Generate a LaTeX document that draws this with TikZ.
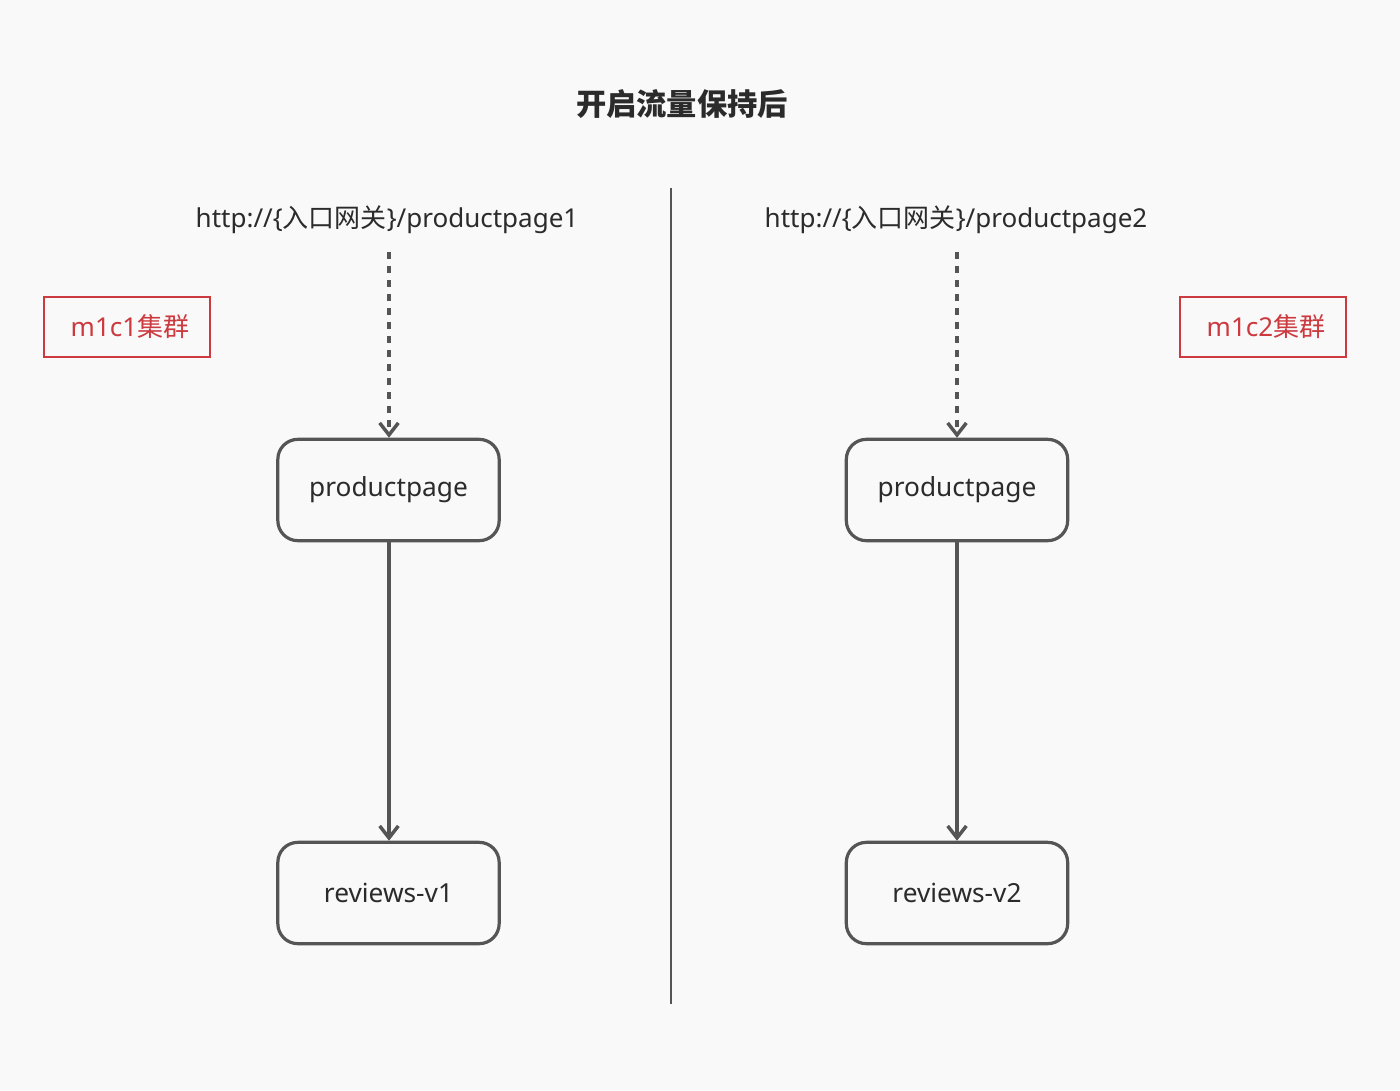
\documentclass[tikz,border=0pt]{standalone}
\usepackage{fontspec}
\setmainfont{Noto Sans}
\newfontfamily\cjk{Noto Sans CJK SC}
\usetikzlibrary{arrows.meta}
\definecolor{bg}{HTML}{F9F9F9}
\definecolor{edge}{HTML}{555555}
\definecolor{txt}{HTML}{2B2B2B}
\definecolor{redc}{HTML}{CC3A3F}
\tikzset{
  svc/.style={draw=edge, line width=2.4pt, rounded corners=15pt, minimum width=166pt, minimum height=76pt, text=txt, font=\fontsize{19.7pt}{23pt}\selectfont, fill=bg},
  cluster/.style={draw=redc, line width=1.5pt, minimum width=125pt, minimum height=45pt, text=redc, font=\fontsize{19.5pt}{23pt}\selectfont},
  url/.style={text=txt, font=\fontsize{19.5pt}{23pt}\selectfont},
  flow/.style={draw=edge, line width=2.6pt, -{Straight Barb[length=9pt,width=14pt,line width=2.6pt]}},
  dflow/.style={flow, dash pattern=on 5.25pt off 5.25pt},
}
\begin{document}
\begin{tikzpicture}[x=0.75pt,y=-0.75pt]
\fill[bg] (0,0) rectangle (1400,1090);
\useasboundingbox (0,0) rectangle (1400,1090);
\node[text=txt, font=\cjk\bfseries\fontsize{22.7pt}{26pt}\selectfont] (title) at (682,104) {开启流量保持后};
\coordinate (dtop) at (671,188);
\coordinate (dbot) at (671,1004);
\draw[edge, line width=1.5pt] (dtop) -- (dbot);
% left
\node[url] (u1) at (387,220) {http://\{{\cjk 入口网关}\}/productpage1};
\node[cluster, text width=0pt, align=center] (c1) at (127,326.5) {};
\node[text=redc, font=\fontsize{19.5pt}{23pt}\selectfont] (c1t) at (130,326.5) {m1c1{\cjk 集群}};
\node[svc] (p1) at (388.5,490) {productpage};
\node[svc] (r1) at (388.5,893) {reviews-v1};
\coordinate (s1) at (389,252);
\draw[dflow] (s1) -- (s1 |- p1.north);
\draw[flow] (p1.south -| s1) -- (r1.north -| s1);
% right
\node[url] (u2) at (956,220) {http://\{{\cjk 入口网关}\}/productpage2};
\node[cluster, text width=0pt, align=center] (c2) at (1263,326.5) {};
\node[text=redc, font=\fontsize{19.5pt}{23pt}\selectfont] (c2t) at (1266,326.5) {m1c2{\cjk 集群}};
\node[svc] (p2) at (957,490) {productpage};
\node[svc] (r2) at (957,893) {reviews-v2};
\coordinate (s2) at (957,252);
\draw[dflow] (s2) -- (s2 |- p2.north);
\draw[flow] (p2.south -| s2) -- (r2.north -| s2);
\end{tikzpicture}
\end{document}
